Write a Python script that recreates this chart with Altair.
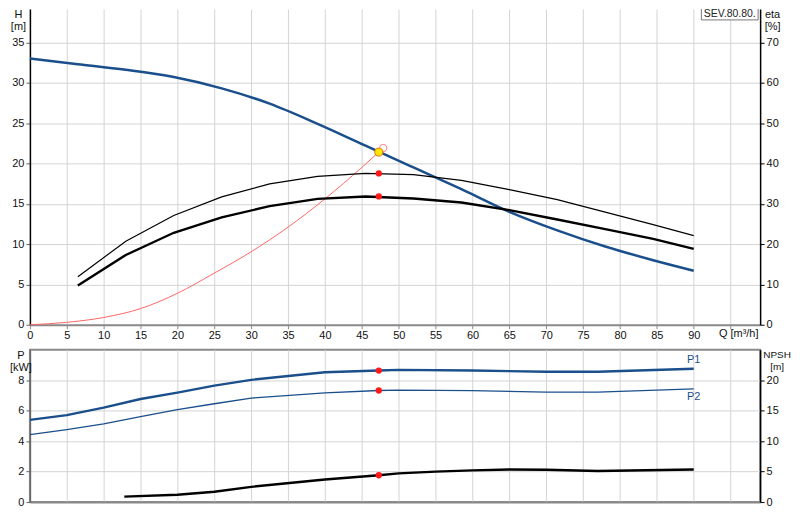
import altair as alt
import pandas as pd

# --- pump curve data ---
# Q-H curve
q_h = [0, 6.5, 13, 19.5, 26, 32.5, 39, 45.5, 52, 58.5, 65, 71.5, 78, 84.5, 90]
head = [33.0, 32.3, 31.6, 30.7, 29.3, 27.4, 24.9, 22.2, 19.5, 16.8, 14.0, 11.7, 9.7, 8.0, 6.7]

# system curve up to the duty point
q_sys = [0, 5, 10, 15, 20, 25, 30, 35, 40, 45, 47.3]
h_sys = [0, 0.3, 0.9, 2.0, 3.9, 6.4, 9.05, 12.1, 15.6, 19.5, 21.4]

# efficiency curves (pump, total)
q_eta = [6.5, 13, 19.5, 26, 32.5, 39, 45.5, 52, 58.5, 65, 71.5, 78, 84.5, 90]
eta_pump = [11.9, 20.7, 27.1, 31.7, 34.9, 36.8, 37.5, 37.2, 35.8, 33.5, 31.0, 27.9, 24.8, 22.1]
eta_total = [9.7, 17.3, 22.8, 26.6, 29.4, 31.2, 31.8, 31.3, 30.3, 28.4, 26.1, 23.7, 21.3, 18.8]

# power curves P1 / P2
q_p = [0, 5, 10, 15, 20, 25, 30, 40, 47.3, 50, 60, 70, 77, 90]
p1 = [5.39, 5.70, 6.20, 6.76, 7.18, 7.64, 8.02, 8.52, 8.63, 8.67, 8.63, 8.55, 8.55, 8.75]
p2 = [4.43, 4.76, 5.13, 5.61, 6.07, 6.45, 6.82, 7.17, 7.32, 7.35, 7.31, 7.21, 7.21, 7.43]

# NPSH curve
q_npsh = [12.8, 20, 25, 30, 40, 47.3, 50, 55, 60, 65, 70, 77, 90]
npsh = [0.9, 1.2, 1.7, 2.5, 3.7, 4.4, 4.7, 5.0, 5.2, 5.35, 5.3, 5.1, 5.35]

# duty point and requested point
duty_q, duty_h = 47.3, 21.4
req_q, req_h = 47.9, 21.9
duty_eta = [37.5, 31.8]
duty_p = [8.63, 7.32]
duty_npsh = 4.4

model = 'SEV.80.80.'

BLUE = '#1a4f8b'
GRID = '#d4d4d4'
GRAY = '#8a8a8a'
FONT = 'Liberation Sans'

W = 733
H_TOP = 317
H_BOT = 153

x_scale = alt.Scale(domain=[0, 99], nice=False, zero=False)

x_top = alt.X('q:Q', scale=x_scale, axis=alt.Axis(
    values=list(range(0, 100, 5)), labelExpr="datum.value == 95 ? '' : datum.label",
    grid=True, gridColor=GRID, domainColor=GRAY, domainWidth=2, tickColor=GRAY,
    tickSize=4, labelPadding=1, labelFlush=False, labelOverlap=False,
    title='Q [m³/h]', titleX=711, titleY=9, titleAlign='center', titleBaseline='middle'))

x_bot = alt.X('q:Q', scale=x_scale, axis=alt.Axis(
    values=list(range(0, 100, 5)), labels=False, ticks=False, grid=True, gridColor=GRID,
    domainColor=GRAY, domainWidth=2, title=None))

y_h = alt.Y('h:Q', scale=alt.Scale(domain=[0, 39.14], nice=False), axis=alt.Axis(
    values=list(range(0, 40, 5)), grid=True, gridColor=GRID, domainColor='black',
    domainWidth=1.5, tickColor='#666', tickSize=4, labelPadding=2, labelFlush=False,
    title=['H', '[m]'], titleAngle=0, titleX=-12, titleY=0, titleAlign='center',
    titleBaseline='top', titleLineHeight=12))

y_eta = alt.Y('eta:Q', scale=alt.Scale(domain=[0, 78.28], nice=False), axis=alt.Axis(
    orient='right', values=list(range(0, 80, 10)), grid=False, domainColor='black',
    domainWidth=1.5, tickColor='black', tickSize=4, labelPadding=2, labelFlush=False,
    title=['eta', '[%]'], titleAngle=0, titleX=12, titleY=0, titleAlign='center',
    titleBaseline='top', titleLineHeight=12))

y_p = alt.Y('p:Q', scale=alt.Scale(domain=[0, 10], nice=False), axis=alt.Axis(
    values=[0, 2, 4, 6, 8], grid=True, gridColor=GRID, domainColor='#666',
    domainWidth=1.5, tickColor='#666', tickSize=4, labelPadding=2, labelFlush=False,
    title=['P', '[kW]'], titleAngle=0, titleX=-9.5, titleY=0, titleAlign='center',
    titleBaseline='top', titleLineHeight=12))

y_n = alt.Y('n:Q', scale=alt.Scale(domain=[0, 25], nice=False), axis=alt.Axis(
    orient='right', values=[0, 5, 10, 15, 20], grid=False, domainColor='black',
    domainWidth=1.5, tickColor='black', tickSize=4, labelPadding=2, labelFlush=False,
    title=['NPSH', '[m]'], titleAngle=0, titleX=16.5, titleY=0, titleAlign='center',
    titleBaseline='top', titleLineHeight=12, titleFontSize=10))

# ---- top panel: H (left) + eta (right) ----
h_df = pd.DataFrame({'q': q_h, 'h': head})
sys_df = pd.DataFrame({'q': q_sys, 'h': h_sys})
duty_df = pd.DataFrame({'q': [duty_q], 'h': [duty_h]})
req_df = pd.DataFrame({'q': [req_q], 'h': [req_h]})
eta1_df = pd.DataFrame({'q': q_eta, 'eta': eta_pump})
eta2_df = pd.DataFrame({'q': q_eta, 'eta': eta_total})
eta_pts = pd.DataFrame({'q': [duty_q] * 2, 'eta': duty_eta})
model_df = pd.DataFrame({'t': [model]})

sys_line = alt.Chart(sys_df).mark_line(color='#ff6666', strokeWidth=1,
                                       interpolate='monotone').encode(x=x_top, y=y_h)
h_line = alt.Chart(h_df).mark_line(color=BLUE, strokeWidth=2.5,
                                   interpolate='monotone').encode(x=x_top, y=y_h)
req_pt = alt.Chart(req_df).mark_point(shape='circle', size=55, color='#ff5050',
                                      filled=False, strokeWidth=1).encode(x=x_top, y=y_h)
duty_pt = alt.Chart(duty_df).mark_point(shape='circle', size=65, fill='#ffe600', stroke='#e8701a',
                                        filled=True, strokeWidth=1, opacity=1).encode(x=x_top, y=y_h)
# label box sits against the top edge, its upper border cut off like in the sheet
model_box = alt.Chart(model_df).mark_rect(fill='white', stroke='#777', strokeWidth=1, clip=True).encode(
    x=alt.value(674), x2=alt.value(731), y=alt.value(-3), y2=alt.value(11))
model_txt = alt.Chart(model_df).mark_text(fontSize=10.5, color='#222', font=FONT).encode(
    text='t:N', x=alt.value(702.5), y=alt.value(5))

left_top = alt.layer(sys_line, h_line, req_pt, duty_pt, model_box, model_txt)

eta1_line = alt.Chart(eta1_df).mark_line(color='black', strokeWidth=1.2).encode(x=x_top, y=y_eta)
eta2_line = alt.Chart(eta2_df).mark_line(color='black', strokeWidth=2.4).encode(x=x_top, y=y_eta)
eta_dots = alt.Chart(eta_pts).mark_circle(size=40, color='#ff1a1a', opacity=1).encode(x=x_top, y=y_eta)

right_top = alt.layer(eta1_line, eta2_line, eta_dots)

top = alt.layer(left_top, right_top).resolve_scale(y='independent').properties(
    width=W, height=H_TOP, view=alt.ViewBackground(stroke='transparent'))

# ---- bottom panel: P (left) + NPSH (right) ----
p1_df = pd.DataFrame({'q': q_p, 'p': p1})
p2_df = pd.DataFrame({'q': q_p, 'p': p2})
p_pts = pd.DataFrame({'q': [duty_q] * 2, 'p': duty_p})
lab1 = pd.DataFrame({'q': [q_p[-1]], 'p': [p1[-1]], 't': ['P1']})
lab2 = pd.DataFrame({'q': [q_p[-1]], 'p': [p2[-1]], 't': ['P2']})
n_df = pd.DataFrame({'q': q_npsh, 'n': npsh})
n_pt = pd.DataFrame({'q': [duty_q], 'n': [duty_npsh]})

p1_line = alt.Chart(p1_df).mark_line(color=BLUE, strokeWidth=2.4).encode(x=x_bot, y=y_p)
p2_line = alt.Chart(p2_df).mark_line(color=BLUE, strokeWidth=1.3).encode(x=x_bot, y=y_p)
p_dots = alt.Chart(p_pts).mark_circle(size=40, color='#ff1a1a', opacity=1).encode(x=x_bot, y=y_p)
p1_lab = alt.Chart(lab1).mark_text(dy=-9, color=BLUE, fontSize=11, font=FONT).encode(
    x=x_bot, y=y_p, text='t:N')
p2_lab = alt.Chart(lab2).mark_text(dy=8, color=BLUE, fontSize=11, font=FONT).encode(
    x=x_bot, y=y_p, text='t:N')

left_bot = alt.layer(p1_line, p2_line, p_dots, p1_lab, p2_lab)

n_line = alt.Chart(n_df).mark_line(color='black', strokeWidth=2.4).encode(x=x_bot, y=y_n)
n_dot = alt.Chart(n_pt).mark_circle(size=40, color='#ff1a1a', opacity=1).encode(x=x_bot, y=y_n)

right_bot = alt.layer(n_line, n_dot)

bottom = alt.layer(left_bot, right_bot).resolve_scale(y='independent').properties(
    width=W, height=H_BOT, view=alt.ViewBackground(stroke=GRAY, strokeWidth=2))

chart = alt.vconcat(top, bottom, spacing=25, bounds='flush').properties(
    padding={'left': 0, 'top': 0, 'right': 0, 'bottom': 0}
).configure_axis(
    labelFont=FONT, labelFontSize=11, labelColor='#111',
    titleFont=FONT, titleFontSize=11, titleFontWeight='normal', titleColor='#111'
).configure_view(strokeWidth=0)

chart.save("out.html", embed_options={"renderer": "svg", "actions": False})
